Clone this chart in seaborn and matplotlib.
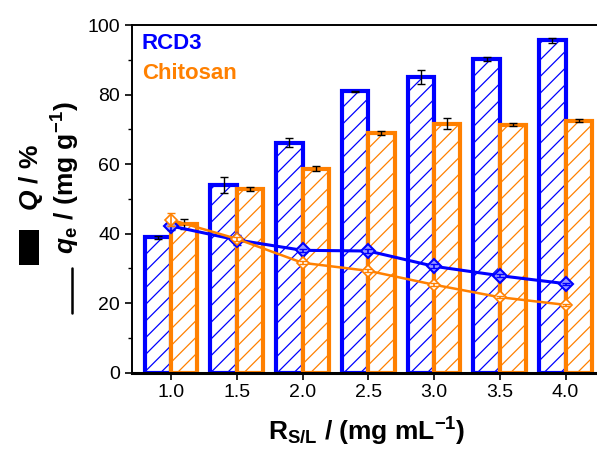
import numpy as np
import pandas as pd
import matplotlib
matplotlib.use("Agg")
import matplotlib.pyplot as plt
import seaborn as sns
from matplotlib.ticker import MultipleLocator
from matplotlib.patches import Rectangle
from matplotlib.lines import Line2D

sns.set_style("ticks")
plt.rcParams['font.family'] = ['Liberation Sans', 'DejaVu Sans']
plt.rcParams['text.color'] = 'black'
plt.rcParams['axes.labelcolor'] = 'black'
plt.rcParams['xtick.color'] = 'black'
plt.rcParams['ytick.color'] = 'black'
plt.rcParams['mathtext.fontset'] = 'custom'
plt.rcParams['mathtext.rm'] = 'Liberation Sans'
plt.rcParams['mathtext.bf'] = 'Liberation Sans:bold'
plt.rcParams['mathtext.it'] = 'Liberation Sans:italic'
try:
    plt.rcParams['mathtext.bfit'] = 'Liberation Sans:bold:italic'
except KeyError:
    pass
plt.rcParams['hatch.linewidth'] = 0.9

# ---- data ----
ratios = ["1.0", "1.5", "2.0", "2.5", "3.0", "3.5", "4.0"]
q_rcd3 = [38.9, 53.9, 66.2, 81.0, 85.0, 90.3, 95.6]
q_rcd3_err = [0.5, 2.3, 1.2, 0.2, 2.0, 0.5, 0.6]
q_chit = [42.8, 52.9, 58.7, 69.0, 71.6, 71.4, 72.5]
q_chit_err = [1.5, 0.5, 0.8, 0.5, 1.6, 0.4, 0.5]
qe_rcd3 = [42.2, 38.2, 35.2, 35.0, 30.6, 27.9, 25.6]
qe_rcd3_err = [1.2, 1.5, 0.5, 0.5, 0.6, 0.5, 0.3]
qe_chit = [44.0, 38.5, 31.6, 29.3, 25.3, 21.7, 19.5]
qe_chit_err = [1.8, 0.6, 0.4, 0.4, 0.4, 0.3, 0.3]
series = ["RCD3", "Chitosan"]
colors = {"RCD3": "#0000FF", "Chitosan": "#FF8000"}

df = pd.DataFrame({
    "ratio": ratios * 2,
    "Q": q_rcd3 + q_chit,
    "material": [series[0]] * len(ratios) + [series[1]] * len(ratios),
})

fig = plt.figure(figsize=(5.97, 4.5), dpi=100)
ax = fig.add_axes([0.2211, 0.172, 0.779, 0.772])

sns.barplot(data=df, x="ratio", y="Q", hue="material", palette=colors,
            width=0.8, errorbar=None, legend=False, ax=ax, zorder=2)

for cont, name in zip(ax.containers, series):
    for p in cont:
        p.set_facecolor("white")
        p.set_edgecolor(colors[name])
        p.set_hatch("//")
        p.set_linewidth(3.0)

idx = np.arange(len(ratios))
# bar error bars
ax.errorbar(idx - 0.2, q_rcd3, yerr=q_rcd3_err, fmt="none", ecolor="black",
            elinewidth=1.0, capsize=3, capthick=1.0, zorder=3)
ax.errorbar(idx + 0.2, q_chit, yerr=q_chit_err, fmt="none", ecolor="black",
            elinewidth=1.0, capsize=3, capthick=1.0, zorder=3)

# qe lines
sns.lineplot(x=idx, y=qe_rcd3, color=colors["RCD3"], lw=2.2, marker="D",
             markersize=7, markerfacecolor="#9999ff", markeredgecolor=colors["RCD3"],
             markeredgewidth=1.5, ax=ax, zorder=5)
ax.errorbar(idx, qe_rcd3, yerr=qe_rcd3_err, fmt="none", ecolor=colors["RCD3"],
            elinewidth=1.2, capsize=3, zorder=5)
sns.lineplot(x=idx, y=qe_chit, color=colors["Chitosan"], lw=1.8, marker="D",
             markersize=6, markerfacecolor="white", markeredgecolor=colors["Chitosan"],
             markeredgewidth=1.2, ax=ax, zorder=6)
ax.errorbar(idx, qe_chit, yerr=qe_chit_err, fmt="none", ecolor=colors["Chitosan"],
            elinewidth=1.2, capsize=3, zorder=6)

ax.set_xlim(-0.594, 6.48)
ax.set_ylim(0, 100)
ax.yaxis.set_major_locator(MultipleLocator(20))
ax.yaxis.set_minor_locator(MultipleLocator(10))
ax.tick_params(axis="both", which="major", direction="out", length=5, width=1.2,
               labelsize=14, colors="black")
ax.tick_params(axis="y", which="minor", direction="out", length=3, width=1.0)
ax.set_xticks(idx)
ax.set_xticklabels(ratios)
ax.set_xlabel("")
ax.set_ylabel("")

for s in ["left", "top"]:
    ax.spines[s].set_linewidth(1.4)
    ax.spines[s].set_color("black")
ax.spines["bottom"].set_linewidth(2.2)
ax.spines["bottom"].set_color("black")
ax.spines["right"].set_visible(False)

ax.text(0.0215, 0.948, "RCD3", transform=ax.transAxes, color=colors["RCD3"],
        fontsize=16, fontweight="bold", ha="left", va="center")
ax.text(0.0215, 0.862, "Chitosan", transform=ax.transAxes, color=colors["Chitosan"],
        fontsize=16, fontweight="bold", ha="left", va="center")

fig.text(367 / 597, 1 - 432 / 450,
         r"$\mathbf{R}_{\mathbf{S/L}}$ / (mg mL$^{\mathbf{-1}}$)",
         fontsize=19, fontweight="bold", ha="center", va="center")

# y-axis legend-style labels
fig.patches.append(Rectangle((19 / 597, 1 - 265 / 450), 20 / 597, 35 / 450,
                             transform=fig.transFigure, facecolor="black",
                             edgecolor="none"))
fig.text(31 / 597, 1 - 177 / 450, r"$\mathbfit{Q}$ / %",
         fontsize=19, fontweight="bold", ha="center", va="center", rotation=90)
fig.lines.append(Line2D([72 / 597, 72 / 597], [1 - 313 / 450, 1 - 268 / 450],
                        transform=fig.transFigure, color="black", lw=1.8))
fig.text(66 / 597, 1 - 178 / 450,
         r"$\mathbfit{q}_{\mathbf{e}}$ / (mg g$^{\mathbf{-1}}$)",
         fontsize=19, fontweight="bold", ha="center", va="center", rotation=90)

fig.savefig("out.png", dpi=100)
